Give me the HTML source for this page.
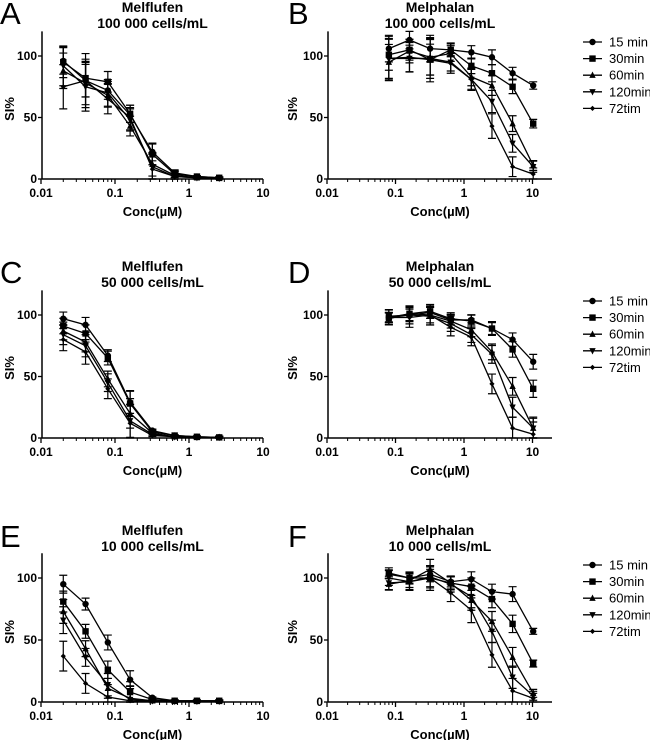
<!DOCTYPE html>
<html><head><meta charset="utf-8">
<style>
html,body{margin:0;padding:0;background:#fff;}
svg{display:block;font-family:"Liberation Sans",Arial,sans-serif;}
</style></head>
<body>
<svg id="fig" width="650" height="740" viewBox="0 0 650 740" xmlns="http://www.w3.org/2000/svg"></svg>
<script>
const seriesNames = ["15 min","30min","60min","120min","72tim"];
const melfluConc = [0.02,0.04,0.08,0.16,0.32,0.64,1.28,2.56];
const melphaConc = [0.08,0.16,0.32,0.64,1.28,2.56,5.12,10.24];
const xTickLabels = ["0.01","0.1","1","10"];
const yTickValues = [0,50,100];

const A15 = [96,80,72,52,22,5,2,1];
const A30 = [95,82,79,53,20,4,2,1];
const A60 = [88,78,68,43,12,3,1,0.5];
const A120 = [92,75,70,48,10,2,1,0.5];
const A72 = [75,80,65,50,8,2,1,0.5];
const Aerr = [18,22,12,10,12,4,1,1];
const B15 = [106,113,106,105,103,99,86,76];
const B30 = [101,105,97,105,92,86,75,45];
const B60 = [95,104,99,102,83,76,45,11];
const B120 = [98,98,98,95,81,63,29,10];
const B72 = [98,99,97,94,81,43,10,4];
const Berr = [18,12,18,8,9,10,8,5];
const C15 = [97,92,67,29,6,2,1,0.5];
const C30 = [91,85,65,28,5,2,1,0.5];
const C60 = [87,78,48,20,4,1,0.5,0.5];
const C120 = [84,75,45,14,3,1,0.5,0.5];
const C72 = [80,70,40,12,2,1,0.5,0.5];
const Cerr = [9,10,8,15,2,1,1,1];
const D15 = [98,100,102,96,96,89,80,62];
const D30 = [98,101,103,97,95,89,72,40];
const D60 = [97,101,100,95,88,70,42,8];
const D120 = [99,100,99,93,84,68,25,8];
const D72 = [98,98,100,90,82,44,8,3];
const Derr = [6,8,8,7,7,8,9,10];
const E15 = [95,79,48,18,3.5,1,1,1];
const E30 = [81,57,26,8,2,1,1,1];
const E60 = [73,43,11,3,1,0.5,0.5,0.5];
const E120 = [66,36,14,2,1,0.5,0.5,0.5];
const E72 = [37,15,4,1,0.5,0.5,0.5,0.5];
const Eerr = [12,8,10,12,1,1,1,1];
const F15 = [103,100,103,97,99,89,87,57];
const F30 = [104,100,100,96,93,83,63,31];
const F60 = [95,98,107,96,82,65,36,7];
const F120 = [96,97,101,95,85,57,20,5];
const F72 = [100,97,100,88,74,38,9,3];
const Ferr = [6,7,10,7,10,10,10,4];

const panels = [
 {id:"A",title:"Melflufen",sub:"100 000 cells/mL",conc:melfluConc,s:[A15,A30,A60,A120,A72],err:Aerr,x0:41,dec:74,xEnd:263,base:179,unit:1.23,letterX:0,legend:false},
 {id:"B",title:"Melphalan",sub:"100 000 cells/mL",conc:melphaConc,s:[B15,B30,B60,B120,B72],err:Berr,x0:327,dec:68.5,xEnd:552,base:179,unit:1.23,letterX:288,legend:true},
 {id:"C",title:"Melflufen",sub:"50 000 cells/mL",conc:melfluConc,s:[C15,C30,C60,C120,C72],err:Cerr,x0:41,dec:74,xEnd:263,base:438,unit:1.23,letterX:0,legend:false},
 {id:"D",title:"Melphalan",sub:"50 000 cells/mL",conc:melphaConc,s:[D15,D30,D60,D120,D72],err:Derr,x0:327,dec:68.5,xEnd:552,base:438,unit:1.23,letterX:288,legend:true},
 {id:"E",title:"Melflufen",sub:"10 000 cells/mL",conc:melfluConc,s:[E15,E30,E60,E120,E72],err:Eerr,x0:41,dec:74,xEnd:263,base:702,unit:1.24,letterX:0,legend:false},
 {id:"F",title:"Melphalan",sub:"10 000 cells/mL",conc:melphaConc,s:[F15,F30,F60,F120,F72],err:Ferr,x0:327,dec:68.5,xEnd:552,base:702,unit:1.24,letterX:288,legend:true}
];

const NS="http://www.w3.org/2000/svg";
const svg=document.getElementById("fig");
function mk(tag,attrs,parent,text){const e=document.createElementNS(NS,tag);for(const k in attrs)e.setAttribute(k,attrs[k]);if(text!==undefined)e.textContent=text;(parent||svg).appendChild(e);return e;}

function marker(g,k,x,y){
  const r=3.2;
  let m;
  if(k===0) m=mk("circle",{cx:x,cy:y,r:r,fill:"#000"},g);
  else if(k===1) m=mk("rect",{x:x-r,y:y-r,width:2*r,height:2*r,fill:"#000"},g);
  else if(k===2) m=mk("polygon",{points:`${x},${y-r-0.5} ${x-r},${y+r-0.5} ${x+r},${y+r-0.5}`,fill:"#000"},g);
  else if(k===3) m=mk("polygon",{points:`${x},${y+r+0.5} ${x-r},${y-r+0.5} ${x+r},${y-r+0.5}`,fill:"#000"},g);
  else m=mk("polygon",{points:`${x},${y-2.6} ${x-2.6},${y} ${x},${y+2.6} ${x+2.6},${y}`,fill:"#000"},g);
  return m;
}

panels.forEach(p=>{
  const g=mk("g",{});
  
  
  const xs=v=>p.x0+p.dec*(Math.log10(v)+2);
  const ys=v=>p.base-v*p.unit;
  const yAx=p.x0+1;
  const cx=(yAx+p.xEnd)/2;
  const L=mk("text",{x:p.letterX,y:p.base-155,"font-size":31,fill:"#000"},g,p.id);
  
  
  const t1=mk("text",{x:cx,y:p.base-167,"font-size":14,"font-weight":"bold","text-anchor":"middle"},g,p.title);
  
  
  const t2=mk("text",{x:cx,y:p.base-151,"font-size":14,"font-weight":"bold","text-anchor":"middle"},g,p.sub);
  
  
  const ya=mk("line",{x1:yAx,y1:ys(120),x2:yAx,y2:p.base,stroke:"#000","stroke-width":1.5},g);
  
  
  const xa=mk("line",{x1:yAx,y1:p.base,x2:p.xEnd,y2:p.base,stroke:"#000","stroke-width":1.5},g);
  
  
  yTickValues.forEach(v=>{
    mk("line",{x1:yAx-4,y1:ys(v),x2:yAx,y2:ys(v),stroke:"#000","stroke-width":1.3},g);
    const tl=mk("text",{x:yAx-5,y:ys(v)+4,"font-size":12,"font-weight":"bold","text-anchor":"end"},g,String(v));
    
    
  });
  xTickLabels.forEach((lab,i)=>{
    const x=xs(parseFloat(lab));
    mk("line",{x1:x,y1:p.base,x2:x,y2:p.base+5,stroke:"#000","stroke-width":1.3},g);
    const tl=mk("text",{x:x,y:p.base+18,"font-size":12,"font-weight":"bold","text-anchor":"middle"},g,lab);
    
    
    for(let m=2;m<=9;m++){const v=parseFloat(lab)*m;const mx=xs(v);if(mx<=p.xEnd)mk("line",{x1:mx,y1:p.base,x2:mx,y2:p.base+3,stroke:"#000","stroke-width":1},g);}
  });
  const xt=mk("text",{x:cx,y:p.base+37,"font-size":13,"font-weight":"bold","text-anchor":"middle"},g,"Conc(µM)");
  
  
  const yy=p.base-70;
  const ytx=p.letterX===0?14:297;
  const yt=mk("text",{x:ytx,y:yy,"font-size":13,"font-weight":"bold","text-anchor":"middle",transform:`rotate(-90 ${ytx} ${yy})`},g,"SI%");
  
  
  p.s.forEach((vals,k)=>{
    const sg=mk("g",{},g);
    
    
    const pts=vals.map((v,i)=>xs(p.conc[i])+","+ys(v)).join(" ");
    mk("polyline",{points:pts,fill:"none",stroke:"#000","stroke-width":1.3},sg);
    vals.forEach((v,i)=>{
      const x=xs(p.conc[i]);const e=p.err[i]*(0.6+0.1*k);
      const hi=ys(Math.min(v+e,120)),lo=ys(Math.max(v-e,0));
      mk("path",{d:`M${x},${hi}V${lo}M${x-4},${hi}h8M${x-4},${lo}h8`,stroke:"#000","stroke-width":1.2,fill:"none"},sg);
      const m=marker(sg,k,x,ys(v));
      
      
    });
  });
  if(p.legend){
    const lg=mk("g",{},g);
    
    
    const y0=p.base-137;
    seriesNames.forEach((n,k)=>{
      const y=y0+k*16.6;
      const eg=mk("g",{},lg);
      
      
      mk("line",{x1:583,y1:y,x2:602,y2:y,stroke:"#000","stroke-width":1.3},eg);
      marker(eg,k,592.5,y);
      mk("text",{x:609,y:y+4.5,"font-size":13},eg,n);
    });
  }
});
</script>
</body></html>
